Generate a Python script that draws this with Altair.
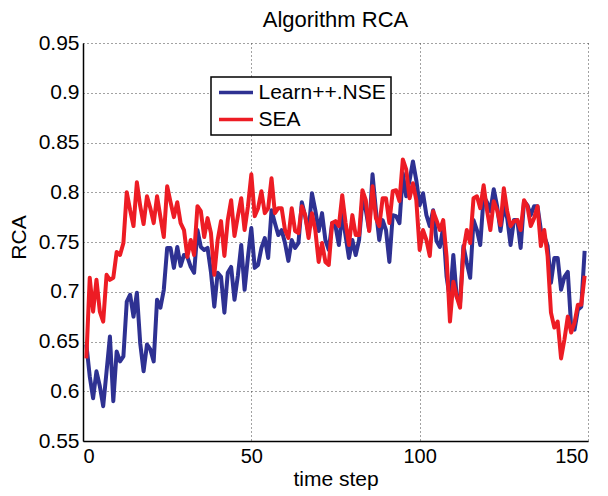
import altair as alt
import pandas as pd

# time steps
steps = list(range(1, 150))

learn_nse = [
    0.647, 0.615, 0.593, 0.620, 0.605, 0.585, 0.620, 0.655, 0.590, 0.640,
    0.630, 0.635, 0.690, 0.697, 0.675, 0.699, 0.648, 0.620, 0.647, 0.642,
    0.630, 0.692, 0.684, 0.702, 0.744, 0.744, 0.724, 0.745, 0.726, 0.737,
    0.735, 0.725, 0.719, 0.762, 0.745, 0.742, 0.744, 0.720, 0.685, 0.719,
    0.715, 0.679, 0.719, 0.725, 0.692, 0.716, 0.747, 0.702, 0.735, 0.764,
    0.724, 0.727, 0.744, 0.754, 0.734, 0.782, 0.769, 0.757, 0.762, 0.749,
    0.731, 0.752, 0.744, 0.749, 0.790, 0.776, 0.759, 0.799, 0.782, 0.761,
    0.779, 0.752, 0.742, 0.769, 0.766, 0.747, 0.779, 0.756, 0.734, 0.752,
    0.737, 0.752, 0.792, 0.782, 0.762, 0.818, 0.782, 0.752, 0.772, 0.762,
    0.730, 0.777, 0.776, 0.769, 0.819, 0.796, 0.812, 0.831, 0.812, 0.787,
    0.799, 0.777, 0.766, 0.782, 0.751, 0.745, 0.765, 0.715, 0.692, 0.737,
    0.695, 0.689, 0.746, 0.729, 0.714, 0.772, 0.762, 0.747, 0.796, 0.790,
    0.781, 0.803, 0.786, 0.761, 0.786, 0.774, 0.747, 0.772, 0.772, 0.744,
    0.791, 0.787, 0.777, 0.786, 0.786, 0.762, 0.756, 0.746, 0.709, 0.734,
    0.734, 0.702, 0.715, 0.720, 0.665, 0.662, 0.682, 0.685, 0.741,
]

sea = [
    0.633, 0.714, 0.680, 0.712, 0.680, 0.670, 0.717, 0.712, 0.714, 0.740,
    0.737, 0.749, 0.800, 0.782, 0.766, 0.810, 0.786, 0.768, 0.796, 0.784,
    0.769, 0.796, 0.775, 0.755, 0.806, 0.790, 0.775, 0.790, 0.769, 0.762,
    0.735, 0.752, 0.737, 0.786, 0.781, 0.755, 0.774, 0.759, 0.717, 0.752,
    0.771, 0.736, 0.772, 0.792, 0.756, 0.776, 0.794, 0.762, 0.786, 0.818,
    0.776, 0.784, 0.801, 0.779, 0.784, 0.814, 0.779, 0.784, 0.784, 0.762,
    0.754, 0.784, 0.761, 0.759, 0.786, 0.777, 0.754, 0.779, 0.762, 0.730,
    0.749, 0.730, 0.727, 0.769, 0.771, 0.766, 0.797, 0.769, 0.747, 0.777,
    0.757, 0.757, 0.802, 0.792, 0.761, 0.806, 0.774, 0.766, 0.794, 0.794,
    0.769, 0.801, 0.802, 0.791, 0.833, 0.823, 0.794, 0.809, 0.792, 0.742,
    0.762, 0.752, 0.736, 0.781, 0.772, 0.762, 0.772, 0.735, 0.670, 0.710,
    0.695, 0.684, 0.742, 0.762, 0.749, 0.794, 0.796, 0.784, 0.807, 0.782,
    0.762, 0.791, 0.782, 0.767, 0.804, 0.781, 0.766, 0.771, 0.772, 0.762,
    0.792, 0.786, 0.766, 0.774, 0.786, 0.746, 0.762, 0.736, 0.679, 0.664,
    0.670, 0.633, 0.652, 0.675, 0.659, 0.669, 0.687, 0.687, 0.716,
]

series_names = ["Learn++.NSE", "SEA"]
series_colors = ["#2e3192", "#ed1c24"]
x_ticks = [0, 50, 100, 150]
y_ticks = [0.55, 0.6, 0.65, 0.7, 0.75, 0.8, 0.85, 0.9, 0.95]

df = pd.concat([
    pd.DataFrame({"step": steps, "rca": learn_nse, "series": series_names[0]}),
    pd.DataFrame({"step": steps, "rca": sea, "series": series_names[1]}),
])

FONT = "Liberation Sans"

chart = alt.Chart(df).mark_line(strokeWidth=4, strokeJoin="round").encode(
    x=alt.X("step:Q",
            scale=alt.Scale(domain=[0, 150], nice=False, zero=False),
            axis=alt.Axis(values=x_ticks, title="time step", labelPadding=5,
                          labelFontSize=20,
                          titleY=44, titleBaseline="alphabetic")),
    y=alt.Y("rca:Q",
            scale=alt.Scale(domain=[0.55, 0.95], nice=False, zero=False),
            axis=alt.Axis(values=y_ticks, title="RCA",
                          labelExpr="toString(round(datum.value*100)/100)",
                          labelPadding=4, titleX=-64, titleY=194,
                          titleBaseline="middle", titleAlign="center")),
    color=alt.Color("series:N",
                    scale=alt.Scale(domain=series_names, range=series_colors),
                    legend=alt.Legend(title=None, orient="none", legendX=128, legendY=34,
                                      symbolType="M-2,0H2", symbolSize=289,
                                      symbolStrokeWidth=3.5, symbolOffset=9.5,
                                      labelOffset=12, labelFontSize=21, labelFont=FONT,
                                      labelColor="black", strokeColor="black",
                                      fillColor="white", padding=5, rowPadding=5,
                                      labelLimit=300)),
).properties(
    width=505,
    height=398,
    title=alt.TitleParams("Algorithm RCA", fontSize=22, font=FONT, fontWeight="normal",
                          color="black", anchor="middle", frame="group", offset=0),
    autosize=alt.AutoSizeParams(type="none"),
    padding={"left": 75, "top": 35, "right": 12, "bottom": 53},
).configure_view(
    stroke=None
).configure_axis(
    grid=True,
    gridDash=[1, 3],
    gridColor="#444444",
    gridWidth=1,
    gridOpacity=1,
    domainColor="black",
    domainWidth=1.5,
    ticks=False,
    labelFont=FONT,
    labelFontSize=21,
    labelColor="black",
    titleFont=FONT,
    titleFontSize=21,
    titleFontWeight="normal",
    titleColor="black",
).configure_legend(
    strokeWidth=1.5,
)

chart.save("out.html", embed_options={"renderer": "svg", "actions": False})
